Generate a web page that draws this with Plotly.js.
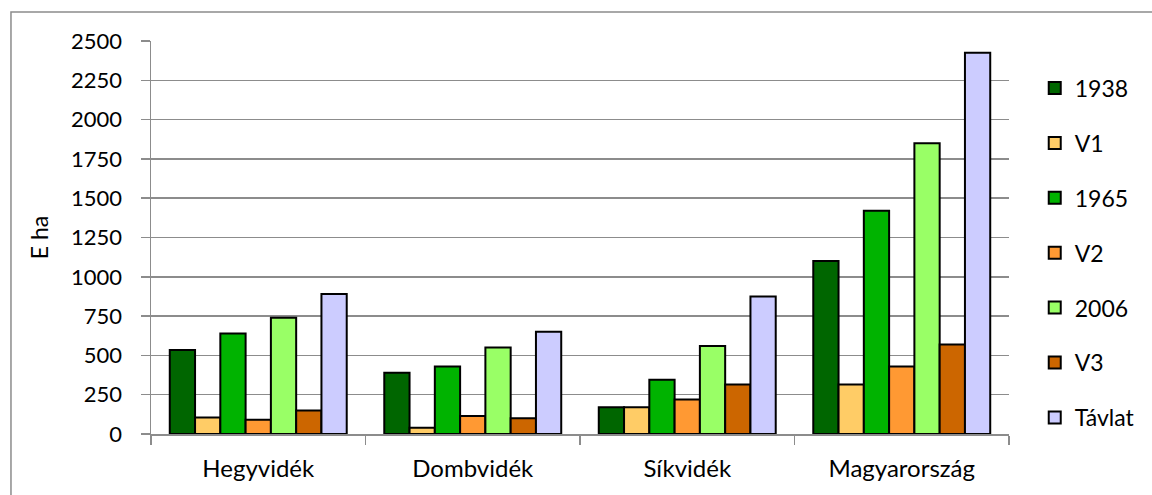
<!DOCTYPE html>
<html>
<head>
<meta charset="utf-8">
<script src="https://cdn.plot.ly/plotly-3.0.1.min.js"></script>
<style>html,body{margin:0;padding:0;background:#fff;}#chart{width:1152px;height:495px;}</style>
</head>
<body>
<div id="chart"></div>
<script>
const categories = ["Hegyvidék", "Dombvidék", "Síkvidék", "Magyarország"];
const seriesNames = ["1938", "V1", "1965", "V2", "2006", "V3", "Távlat"];
const v1938   = [535, 390, 170, 1100];
const vV1     = [105, 40, 170, 315];
const v1965   = [640, 430, 345, 1420];
const vV2     = [90, 115, 220, 430];
const v2006   = [740, 550, 560, 1850];
const vV3     = [150, 100, 315, 570];
const vTavlat = [890, 650, 875, 2425];
const seriesValues = [v1938, vV1, v1965, vV2, v2006, vV3, vTavlat];
const seriesColors = ["#006600", "#FFCC66", "#00B300", "#FF9933", "#99FF66", "#CC6600", "#CCCCFF"];
const yTicks = [0, 250, 500, 750, 1000, 1250, 1500, 1750, 2000, 2250, 2500];

const FONT = "Lato, Open Sans, Noto Sans, sans-serif";
const FS = 23;
const GRID = "#8c8c8c";

const traces = seriesNames.map((name, i) => ({
  type: "bar",
  name: name,
  x: categories,
  y: seriesValues[i],
  legendgroup: "g" + i,
  marker: { color: seriesColors[i], line: { color: "#000000", width: 2 } },
  hoverinfo: "x+y+name"
}));

const layout = {
  width: 1152,
  height: 495,
  paper_bgcolor: "#ffffff",
  plot_bgcolor: "#ffffff",
  margin: { l: 151, r: 143, t: 41, b: 61, pad: 0 },
  barmode: "group",
  bargap: 0.175,
  bargroupgap: 0,
  font: { family: FONT, size: FS, color: "#000000" },
  showlegend: true,
  legend: {
    x: 1.03, xanchor: "left",
    y: 0.935, yanchor: "top",
    font: { family: FONT, size: FS, color: "#000000" },
    traceorder: "grouped",
    tracegroupgap: 22,
    bgcolor: "rgba(0,0,0,0)",
    borderwidth: 0
  },
  xaxis: {
    type: "category",
    showline: true,
    linecolor: GRID,
    linewidth: 1.5,
    ticks: "outside",
    tickson: "boundaries",
    ticklen: 9,
    tickcolor: GRID,
    tickwidth: 1.5,
    showgrid: false,
    ticklabelstandoff: 13,
    tickfont: { family: FONT, size: 24, color: "#000000" }
  },
  yaxis: {
    range: [0, 2500],
    tickmode: "array",
    tickvals: yTicks,
    ticktext: yTicks.map(String),
    showline: true,
    linecolor: GRID,
    linewidth: 1.5,
    ticks: "outside",
    ticklen: 9,
    tickcolor: GRID,
    tickwidth: 1.5,
    showgrid: true,
    gridcolor: GRID,
    gridwidth: 1.5,
    zeroline: false,
    ticklabelstandoff: 14,
    tickfont: { family: FONT, size: 22, color: "#000000" },
    title: { text: "E ha", font: { family: FONT, size: FS, color: "#000000" }, standoff: 16 }
  },
  shapes: [{
    type: "rect", xref: "paper", yref: "paper",
    x0: -0.1632, x1: 1.25, y0: -0.3, y1: 1.0738,
    line: { color: GRID, width: 1.5 }, fillcolor: "rgba(0,0,0,0)", layer: "below"
  }]
};

Plotly.newPlot("chart", traces, layout, { displayModeBar: false, staticPlot: true });
</script>
</body>
</html>
